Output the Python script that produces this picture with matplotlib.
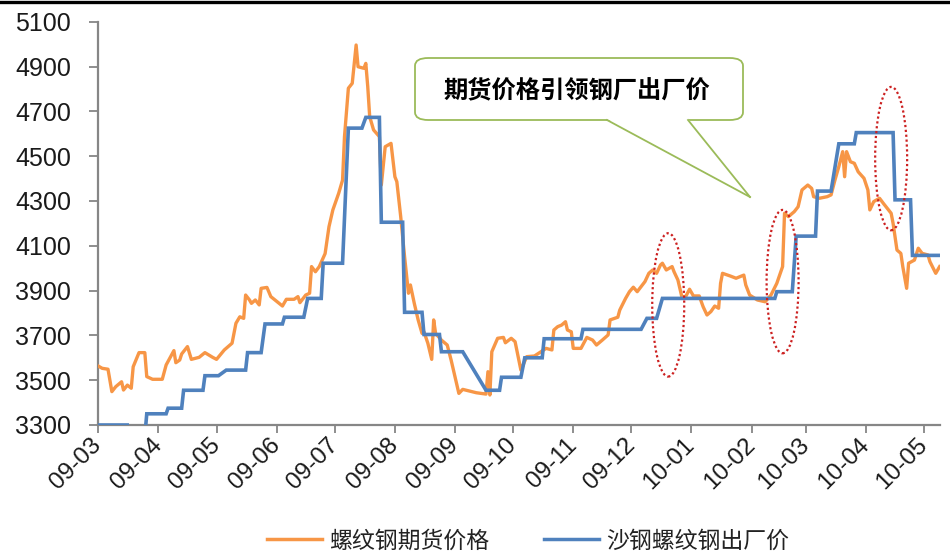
import matplotlib
matplotlib.use("Agg")
import matplotlib.pyplot as plt
import matplotlib.dates as mdates
from matplotlib.patches import FancyBboxPatch, Ellipse, Polygon
from matplotlib.lines import Line2D
import pandas as pd

plt.rcParams['font.family'] = ['Liberation Sans', 'Noto Sans CJK SC', 'DejaVu Sans']

# Rebar futures price (daily closes, key turning points)
futures_dates = [
    "2009-03-01", "2009-03-03", "2009-03-06", "2009-03-08", "2009-03-10", "2009-03-13",
    "2009-03-14", "2009-03-16", "2009-03-18", "2009-03-19", "2009-03-22", "2009-03-25",
    "2009-03-26", "2009-03-29", "2009-04-03", "2009-04-05", "2009-04-09", "2009-04-10",
    "2009-04-12", "2009-04-13", "2009-04-16", "2009-04-18", "2009-04-22", "2009-04-25",
    "2009-04-29", "2009-05-01", "2009-05-05", "2009-05-09", "2009-05-11", "2009-05-13",
    "2009-05-15", "2009-05-16", "2009-05-18", "2009-05-19", "2009-05-21", "2009-05-23",
    "2009-05-24", "2009-05-27", "2009-05-29", "2009-06-04", "2009-06-06", "2009-06-10",
    "2009-06-12", "2009-06-13", "2009-06-16", "2009-06-18", "2009-06-19", "2009-06-21",
    "2009-06-23", "2009-06-26", "2009-06-28", "2009-06-30", "2009-07-03", "2009-07-05",
    "2009-07-06", "2009-07-08", "2009-07-10", "2009-07-12", "2009-07-13", "2009-07-16",
    "2009-07-17", "2009-07-18", "2009-07-19", "2009-07-21", "2009-07-24", "2009-07-25",
    "2009-07-27", "2009-07-30", "2009-08-01", "2009-08-02", "2009-08-04", "2009-08-06",
    "2009-08-08", "2009-08-09", "2009-08-11", "2009-08-13", "2009-08-15", "2009-08-16",
    "2009-08-18", "2009-08-20", "2009-08-21", "2009-08-22", "2009-08-25", "2009-08-28",
    "2009-08-30", "2009-09-01", "2009-09-03", "2009-09-05", "2009-09-12", "2009-09-17",
    "2009-09-18", "2009-09-19", "2009-09-20", "2009-09-23", "2009-09-26", "2009-09-27",
    "2009-09-30", "2009-10-02", "2009-10-05", "2009-10-08", "2009-10-12", "2009-10-18",
    "2009-10-21", "2009-10-22", "2009-10-24", "2009-10-26", "2009-10-28", "2009-10-29",
    "2009-10-31", "2009-11-01", "2009-11-05", "2009-11-08", "2009-11-11", "2009-11-13",
    "2009-11-16", "2009-11-19", "2009-11-20", "2009-11-24", "2009-11-25", "2009-11-28",
    "2009-11-30", "2009-12-02", "2009-12-04", "2009-12-08", "2009-12-10", "2009-12-12",
    "2009-12-14", "2009-12-16", "2009-12-17", "2009-12-19", "2009-12-22", "2009-12-23",
    "2009-12-25", "2009-12-27", "2009-12-29", "2009-12-31", "2010-01-02", "2010-01-05",
    "2010-01-07", "2010-01-09", "2010-01-11", "2010-01-13", "2010-01-15", "2010-01-16",
    "2010-01-17", "2010-01-21", "2010-01-24", "2010-01-28", "2010-01-29", "2010-01-31",
    "2010-02-04", "2010-02-08", "2010-02-11", "2010-02-14", "2010-02-17", "2010-02-18",
    "2010-02-20", "2010-02-23", "2010-02-25", "2010-02-27", "2010-03-02", "2010-03-04",
    "2010-03-05", "2010-03-08", "2010-03-12", "2010-03-14", "2010-03-16", "2010-03-18",
    "2010-03-20", "2010-03-21", "2010-03-22", "2010-03-24", "2010-03-26", "2010-03-28",
    "2010-03-31", "2010-04-02", "2010-04-03", "2010-04-05", "2010-04-08", "2010-04-10",
    "2010-04-14", "2010-04-15", "2010-04-17", "2010-04-19", "2010-04-20", "2010-04-22",
    "2010-04-23", "2010-04-26", "2010-04-28", "2010-04-30", "2010-05-03", "2010-05-04",
    "2010-05-07", "2010-05-09",
]
futures_prices = [
    3563, 3553, 3549, 3449, 3471, 3493,
    3456, 3478, 3464, 3560, 3623, 3623,
    3516, 3504, 3504, 3568, 3632, 3578,
    3590, 3617, 3650, 3593, 3602, 3623,
    3602, 3593, 3635, 3665, 3754, 3783,
    3776, 3880, 3858, 3843, 3858, 3836,
    3910, 3914, 3873, 3831, 3861, 3861,
    3873, 3846, 3880, 3888, 4007, 3984,
    4007, 4065, 4185, 4260, 4334, 4393,
    4587, 4803, 4825, 4996, 4899, 4892,
    4914, 4810, 4676, 4617, 4587, 4371,
    4542, 4557, 4408, 4386, 4230, 4051,
    3888, 3925, 3843, 3769, 3709, 3716,
    3665, 3593, 3769, 3709, 3679, 3657,
    3590, 3516, 3441, 3459, 3444, 3438,
    3538, 3434, 3627, 3687, 3691, 3667,
    3687, 3672, 3545, 3605, 3608, 3642,
    3635, 3724, 3739, 3746, 3761, 3724,
    3716, 3642, 3642, 3691, 3679, 3657,
    3679, 3702, 3769, 3781, 3813, 3865,
    3895, 3915, 3895, 3940, 3977, 3992,
    3977, 4014, 4022, 3992, 4007, 3984,
    3947, 3873, 3873, 3906, 3876, 3876,
    3828, 3791, 3806, 3831, 3821, 3932,
    3977, 3965, 3955, 3969, 3925, 3880,
    3858, 3850, 3880, 3932, 4007, 4245,
    4230, 4252, 4274, 4349, 4371, 4356,
    4319, 4312, 4319, 4327, 4393, 4453,
    4520, 4408, 4520, 4475, 4468, 4430,
    4401, 4349, 4260, 4297, 4312, 4289,
    4245, 4200, 4081, 4066, 4007, 3910,
    4022, 4036, 4089, 4066, 4059, 4029,
    3977, 4007,
]

# Shagang rebar ex-works price (announced levels, each held until the next change)
mill_dates = [
    "2009-03-01", "2009-03-16", "2009-03-17", "2009-03-25", "2009-03-26", "2009-04-05",
    "2009-04-06", "2009-04-13", "2009-04-14", "2009-04-24", "2009-04-25", "2009-05-02",
    "2009-05-06", "2009-05-16", "2009-05-17", "2009-05-24", "2009-05-26", "2009-06-04",
    "2009-06-05", "2009-06-15", "2009-06-17", "2009-06-24", "2009-06-25", "2009-07-05",
    "2009-07-08", "2009-07-15", "2009-07-17", "2009-07-24", "2009-07-25", "2009-08-05",
    "2009-08-06", "2009-08-15", "2009-08-16", "2009-08-24", "2009-08-25", "2009-09-05",
    "2009-09-17", "2009-09-24", "2009-09-25", "2009-10-05", "2009-10-07", "2009-10-16",
    "2009-10-17", "2009-11-05", "2009-11-06", "2009-12-06", "2009-12-09", "2009-12-14",
    "2009-12-17", "2010-02-13", "2010-02-14", "2010-02-22", "2010-02-24", "2010-03-06",
    "2010-03-07", "2010-03-14", "2010-03-18", "2010-03-26", "2010-03-27", "2010-04-15",
    "2010-04-16", "2010-04-24", "2010-04-25", "2010-05-09",
]
mill_prices = [
    3300, 3300, 3250, 3250, 3350, 3350,
    3375, 3375, 3455, 3455, 3520, 3520,
    3545, 3545, 3623, 3623, 3751, 3751,
    3781, 3781, 3865, 3865, 4022, 4022,
    4625, 4625, 4673, 4673, 4205, 4205,
    3803, 3803, 3704, 3704, 3627, 3627,
    3455, 3455, 3513, 3513, 3600, 3600,
    3685, 3685, 3727, 3727, 3776, 3776,
    3865, 3865, 3895, 3895, 4143, 4143,
    4344, 4344, 4555, 4555, 4605, 4605,
    4305, 4305, 4057, 4057,
]

month_ticks = pd.date_range("2009-03-01", "2010-05-01", freq="MS")
y_ticks = list(range(3300, 5101, 200))

series_names = ["螺纹钢期货价格", "沙钢螺纹钢出厂价"]
callout_text = "期货价格引领钢厂出厂价"

# Highlighted periods: (centre date, centre price)
highlight_centers = [("2009-12-20", 3836), ("2010-02-17", 3940), ("2010-04-14", 4489)]

ORANGE = "#F79646"
BLUE = "#4F81BD"
AXIS_GRAY = "#868686"

W, H = 950, 554
fig = plt.figure(figsize=(W / 100, H / 100), dpi=100)
ax = fig.add_axes([98.3 / W, (H - 425) / H, (940 - 98.3) / W, 403.3 / H])

fd = pd.to_datetime(futures_dates)
md = pd.to_datetime(mill_dates)
ax.plot(fd, futures_prices, color=ORANGE, lw=2.4, solid_joinstyle="round", zorder=3)
ax.plot(md, mill_prices, color=BLUE, lw=2.6, solid_joinstyle="miter", zorder=4)

x0 = mdates.date2num(pd.Timestamp("2009-03-01"))
ax.set_xlim(x0, x0 + 434.2)
ax.set_ylim(3300, 5100)

ax.set_yticks(y_ticks)
ax.set_xticks(month_ticks)
ax.set_xticklabels([d.strftime("%y-%m") for d in month_ticks], rotation=45,
                   ha="right", va="center", rotation_mode="anchor")

for side in ("top", "right"):
    ax.spines[side].set_visible(False)
for side in ("left", "bottom"):
    ax.spines[side].set_color(AXIS_GRAY)
    ax.spines[side].set_linewidth(1.6)

ax.tick_params(axis="y", direction="out", length=6.5, width=1.3, color=AXIS_GRAY,
               labelsize=18, labelcolor="#1a1a1a", pad=13)
ax.tick_params(axis="x", direction="out", length=6, width=1.3, color=AXIS_GRAY,
               labelsize=17.5, labelcolor="#1a1a1a", pad=6)

# dotted ellipses marking where futures led the mill price
for cd, cv in highlight_centers:
    c = mdates.date2num(pd.Timestamp(cd))
    ax.add_patch(Ellipse((c, cv), width=16.5, height=640, fill=False,
                         edgecolor="#CC2020", lw=1.6, linestyle=(0, (1, 1.2)), zorder=5))

# callout box with pointer
def fx(px):
    return px / W

def fy(py):
    return 1 - py / H

box = FancyBboxPatch((fx(415), fy(120)), fx(743) - fx(415), fy(58) - fy(120),
                     boxstyle="round,pad=0,rounding_size=0.014",
                     transform=fig.transFigure, facecolor="white",
                     edgecolor="#9BBB59", lw=1.3, zorder=10)
fig.add_artist(box)
pointer = Polygon([(fx(607), fy(119)), (fx(688), fy(119)), (fx(750), fy(197))],
                  closed=True, transform=fig.transFigure, facecolor="white",
                  edgecolor="none", zorder=11)
fig.add_artist(pointer)
for bx in (607, 688):
    fig.add_artist(Line2D([fx(bx), fx(750)], [fy(120), fy(197)],
                          transform=fig.transFigure, color="#9BBB59", lw=1.3, zorder=12))
fig.text(fx(577), fy(90), callout_text, ha="center", va="center", fontsize=17.5,
         fontweight="bold", family=["Noto Sans CJK SC", "DejaVu Sans"], zorder=13)

# black rule across the top edge
fig.add_artist(Line2D([0, 1], [fy(1.5), fy(1.5)], transform=fig.transFigure,
                      color="black", lw=2.4))

handles = [Line2D([], [], color=ORANGE, lw=2.5), Line2D([], [], color=BLUE, lw=2.5)]
leg = fig.legend(handles, series_names, loc="center", bbox_to_anchor=(fx(528), fy(541)),
                 ncol=2, frameon=False, handlelength=2.4, handletextpad=0.3,
                 columnspacing=2.4, prop={"family": ["Noto Sans CJK SC", "DejaVu Sans"],
                                          "size": 16.5})
for t in leg.get_texts():
    t.set_color("#222222")

fig.savefig("out.png", dpi=100)
